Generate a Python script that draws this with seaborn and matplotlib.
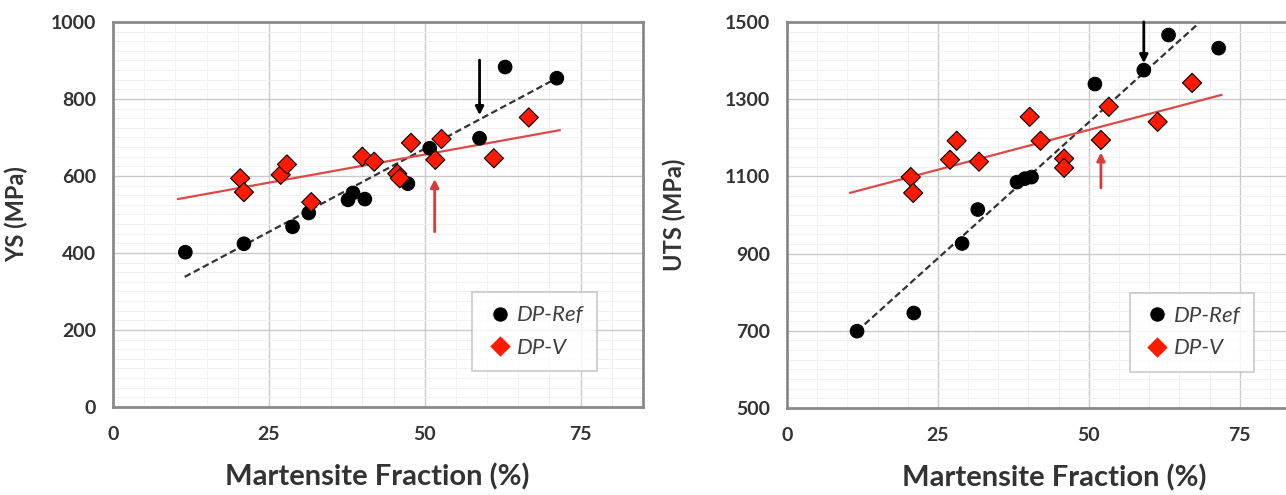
import numpy as np
import pandas as pd
import matplotlib.pyplot as plt
import seaborn as sns
from matplotlib.ticker import MultipleLocator

sns.set_style("white")
plt.rcParams['font.family'] = ['Lato', 'DejaVu Sans']

# ---- data ----
# YS panel
ys_ref_x = [11.6, 21.0, 28.8, 31.4, 37.7, 38.5, 40.4, 47.3, 50.8, 58.8, 62.9, 71.2]
ys_ref_y = [402, 424, 468, 504, 538, 556, 540, 580, 672, 698, 883, 854]
ys_v_x = [20.4, 21.0, 26.9, 27.9, 31.8, 40.0, 41.9, 45.6, 46.0, 47.8, 51.7, 52.7, 61.1, 66.7]
ys_v_y = [594, 558, 603, 630, 532, 650, 637, 606, 594, 686, 642, 696, 646, 752]
ys_ref_trend_x = [11.5, 71.2]
ys_ref_trend_y = [338, 854]
ys_v_trend_x = [10.4, 71.7]
ys_v_trend_y = [540, 719]
ys_ticks = [0, 200, 400, 600, 800, 1000]

# UTS panel
uts_ref_x = [11.6, 21.0, 29.0, 31.6, 38.1, 39.4, 40.5, 51.0, 59.1, 63.2, 71.5]
uts_ref_y = [699, 746, 926, 1014, 1085, 1094, 1098, 1339, 1375, 1466, 1432]
uts_v_x = [20.5, 20.9, 27.0, 28.1, 31.8, 40.2, 42.0, 45.9, 45.9, 52.0, 53.3, 61.4, 67.1]
uts_v_y = [1098, 1057, 1143, 1192, 1138, 1254, 1192, 1146, 1122, 1194, 1280, 1241, 1342]
uts_ref_trend_x = [11.6, 71.5]
uts_ref_trend_y = [699, 1543]
uts_v_trend_x = [10.4, 72.0]
uts_v_trend_y = [1057, 1311]
uts_ticks = [500, 700, 900, 1100, 1300, 1500]

x_ticks = [0, 25, 50, 75]

# arrows: (x, y_start, y_end)
ys_arrows = [(58.8, 901, 758, 'black'), (51.6, 455, 592, '#d93a3a')]
uts_arrows = [(59.1, 1500, 1393, 'black'), (52.0, 1070, 1162, '#d93a3a')]

def make_df(rx, ry, vx, vy):
    return pd.concat([
        pd.DataFrame({'x': rx, 'y': ry, 'grp': 'DP-Ref'}),
        pd.DataFrame({'x': vx, 'y': vy, 'grp': 'DP-V'}),
    ])

fig = plt.figure(figsize=(12.86, 4.95), dpi=100)
ax1 = fig.add_axes([0.0879, 0.1778, 0.412, 0.7778])
ax2 = fig.add_axes([0.612, 0.1758, 0.399, 0.780])

panels = [
    (ax1, make_df(ys_ref_x, ys_ref_y, ys_v_x, ys_v_y), ys_ref_trend_x, ys_ref_trend_y,
     ys_v_trend_x, ys_v_trend_y, ys_arrows, ys_ticks, 'YS (MPa)', -0.16, (0.498, -0.145), 0.934),
    (ax2, make_df(uts_ref_x, uts_ref_y, uts_v_x, uts_v_y), uts_ref_trend_x, uts_ref_trend_y,
     uts_v_trend_x, uts_v_trend_y, uts_arrows, uts_ticks, 'UTS (MPa)', -0.197, (0.52, -0.145), 0.932),
]

for ax, df, rtx, rty, vtx, vty, arrows, yt, ylab, ylx, xlc, legx in panels:
    ax.set_xlim(0, 85)
    ax.set_ylim(yt[0], yt[-1])
    ax.set_xticks(x_ticks)
    ax.set_yticks(yt)
    ax.xaxis.set_minor_locator(MultipleLocator(5))
    ax.yaxis.set_minor_locator(MultipleLocator(25))
    ax.grid(which='major', color='#cacaca', lw=1.0, zorder=0)
    ax.grid(which='minor', color='#f1f1f1', lw=0.8, zorder=0)
    ax.set_axisbelow(True)

    ax.plot(rtx, rty, color='#333333', lw=1.6, ls=(0, (3, 1.6)), zorder=2)
    ax.plot(vtx, vty, color='#e04848', lw=1.6, zorder=2)

    sns.scatterplot(data=df, x='x', y='y', hue='grp', style='grp',
                    palette={'DP-Ref': 'black', 'DP-V': '#ff1a00'},
                    markers={'DP-Ref': 'o', 'DP-V': 'D'},
                    s=95, linewidth=0.8, ax=ax, zorder=3)
    for coll in ax.collections:
        fc = coll.get_facecolors()
        if len(fc) and fc[0][0] > 0.5:
            coll.set_edgecolor('#c81010')
        else:
            coll.set_edgecolor('black')

    for x, y0, y1, c in arrows:
        ax.annotate('', xy=(x, y1), xytext=(x, y0),
                    arrowprops=dict(arrowstyle='-|>', color=c, lw=2.0,
                                    mutation_scale=12, shrinkA=0, shrinkB=0),
                    zorder=4, annotation_clip=False)

    for sp in ax.spines.values():
        sp.set_color('#8a8a8a')
        sp.set_linewidth(2.0)

    ax.tick_params(which='both', direction='in', colors='#8a8a8a',
                   labelcolor='#333333', labelsize=14)
    ax.tick_params(which='major', length=4, width=1)
    ax.tick_params(which='minor', length=4, width=1)
    ax.tick_params(axis='x', pad=14)
    ax.tick_params(axis='y', pad=12)
    for lbl in ax.get_xticklabels() + ax.get_yticklabels():
        lbl.set_fontweight('bold')

    ax.set_xlabel('Martensite Fraction (%)', fontsize=21, color='#333333', fontweight='bold')
    ax.set_ylabel(ylab, fontsize=17, color='#333333', fontweight='bold')
    ax.xaxis.set_label_coords(*xlc)
    ax.yaxis.set_label_coords(ylx, 0.5)

    leg = ax.legend(loc='lower right', bbox_to_anchor=(legx, 0.065), fancybox=False,
                    frameon=True, edgecolor='#bcbcbc', handletextpad=0.1,
                    handlelength=1.3, borderpad=0.6, labelspacing=0.55,
                    markerscale=1.15, prop={'style': 'italic', 'size': 16})
    leg.get_frame().set_linewidth(1.2)
    for t in leg.get_texts():
        t.set_color('#404040')

fig.savefig('out.png', dpi=100)
